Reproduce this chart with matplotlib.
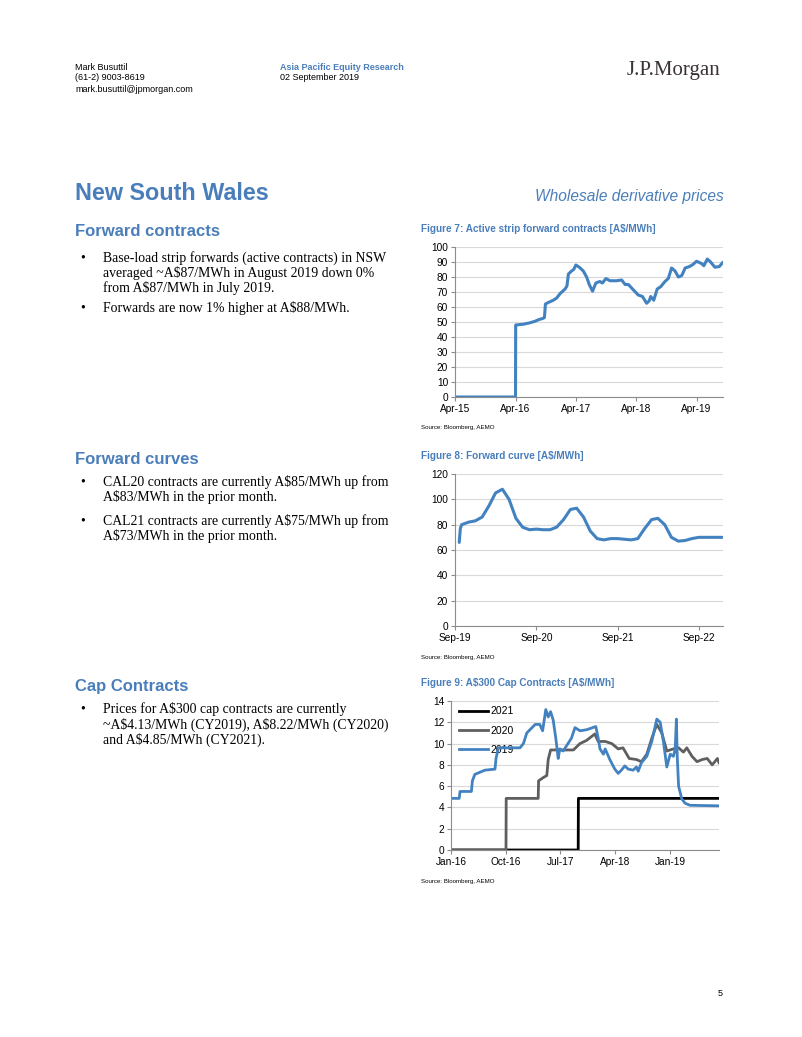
import matplotlib
matplotlib.use("Agg")
import matplotlib.pyplot as plt
import matplotlib.dates as mdates
import pandas as pd

# page size in pixels at 100 dpi
W, H = 802, 1037

BLUE = "#4382C0"
HEAD_BLUE = "#4A7EBB"
GREY = "#5F5F5F"
NARROW = ["Liberation Sans Narrow", "Liberation Sans", "DejaVu Sans"]
SANS = ["Liberation Sans", "DejaVu Sans"]
SERIF = ["Liberation Serif", "DejaVu Serif"]

# ---- Figure 7: active strip forward contracts
fwd_dates = ["2015-04-01", "2016-04-01", "2016-04-02", "2016-05-18", "2016-06-28",
             "2016-07-28", "2016-08-18", "2016-09-16", "2016-09-23", "2016-09-29",
             "2016-10-16", "2016-11-15", "2016-12-06", "2016-12-27", "2017-01-26",
             "2017-02-06", "2017-02-15", "2017-03-06", "2017-03-19", "2017-04-01",
             "2017-04-22", "2017-05-16", "2017-06-05", "2017-06-21", "2017-07-11",
             "2017-07-31", "2017-08-24", "2017-09-09", "2017-09-30", "2017-10-24",
             "2017-12-03", "2018-01-03", "2018-01-24", "2018-02-13", "2018-03-14",
             "2018-04-13", "2018-05-09", "2018-06-03", "2018-06-18", "2018-06-28",
             "2018-07-16", "2018-08-06", "2018-08-27", "2018-09-22", "2018-10-12",
             "2018-11-01", "2018-11-22", "2018-12-12", "2019-01-02", "2019-01-22",
             "2019-02-18", "2019-03-12", "2019-04-01", "2019-05-01", "2019-05-15",
             "2019-06-05", "2019-06-25", "2019-07-21", "2019-08-17", "2019-09-05"]
fwd_values = [0, 0, 48, 48.5, 49.5,
              50.5, 51.5, 52.5, 53, 62,
              63, 64.5, 66, 69, 72,
              74, 82, 84, 85, 88,
              86.5, 84, 80, 75, 70.5,
              76, 77, 76, 79, 77.5,
              77.5, 78, 75, 75, 71.5,
              68, 67, 62.5, 64, 67,
              64.5, 72, 73.5, 77, 79,
              86, 84, 80, 81, 86,
              87, 88.5, 90.5, 89, 87.5,
              92, 90, 86.5, 87, 89.5]

# ---- Figure 8: forward curve
curve_dates = ["2019-09-20", "2019-09-25", "2019-10-01", "2019-11-01", "2019-12-01",
               "2020-01-01", "2020-02-01", "2020-03-01", "2020-04-01", "2020-05-01",
               "2020-06-01", "2020-07-01", "2020-08-01", "2020-09-01", "2020-10-01",
               "2020-11-01", "2020-12-01", "2021-01-01", "2021-02-01", "2021-03-01",
               "2021-04-01", "2021-05-01", "2021-06-01", "2021-07-01", "2021-08-01",
               "2021-09-01", "2021-10-01", "2021-11-01", "2021-12-01", "2022-01-01",
               "2022-02-01", "2022-03-01", "2022-04-01", "2022-05-01", "2022-06-01",
               "2022-07-01", "2022-08-01", "2022-09-01", "2022-10-01", "2022-11-01",
               "2022-12-15"]
curve_values = [66, 77, 80, 82, 83,
                86, 95, 105, 108, 100,
                85, 78, 76, 76.5, 76,
                76, 78, 84, 92, 93,
                86, 75, 69, 68, 69,
                69, 68.5, 68, 69, 77,
                84, 85, 80, 70, 67,
                67.5, 69, 70, 70, 70,
                70]

# ---- Figure 9: A$300 cap contracts
cap_labels = ["2021", "2020", "2019"]
cap21_dates = ["2016-01-01", "2017-09-28", "2017-09-29", "2019-09-02"]
cap21_values = [0, 0, 4.85, 4.85]
cap20_dates = ["2016-01-01", "2016-10-02", "2016-10-03", "2017-03-12", "2017-03-14",
               "2017-04-06", "2017-04-24", "2017-05-01", "2017-05-13", "2017-09-04",
               "2017-10-07", "2017-11-09", "2017-12-20", "2018-01-06", "2018-02-10",
               "2018-03-15", "2018-04-16", "2018-05-10", "2018-06-10", "2018-07-16",
               "2018-08-10", "2018-09-06", "2018-10-01", "2018-10-26", "2018-11-20",
               "2018-12-15", "2019-01-17", "2019-02-12", "2019-03-08", "2019-03-25",
               "2019-04-20", "2019-05-15", "2019-06-10", "2019-07-05", "2019-07-30",
               "2019-08-25", "2019-09-02"]
cap20_values = [0, 0, 4.85, 4.85, 6.5,
                6.8, 7.0, 8.5, 9.4, 9.4,
                10.0, 10.3, 10.9, 10.2, 10.2,
                10.0, 9.5, 9.6, 8.6, 8.5,
                8.3, 9.0, 10.5, 11.8, 11.0,
                9.3, 9.5, 9.6, 9.2, 9.6,
                8.8, 8.3, 8.5, 8.6, 8.0,
                8.6, 8.2]
cap19_dates = ["2016-01-01", "2016-02-11", "2016-02-15", "2016-04-12", "2016-04-17",
               "2016-04-29", "2016-05-24", "2016-06-18", "2016-08-08", "2016-08-13",
               "2016-08-25", "2016-12-11", "2016-12-28", "2017-01-14", "2017-02-25",
               "2017-03-20", "2017-04-03", "2017-04-19", "2017-05-01", "2017-05-13",
               "2017-05-26", "2017-06-08", "2017-06-20", "2017-06-28", "2017-07-15",
               "2017-08-01", "2017-08-25", "2017-09-12", "2017-10-07", "2017-11-09",
               "2017-12-25", "2018-01-06", "2018-01-15", "2018-02-01", "2018-02-10",
               "2018-03-05", "2018-03-30", "2018-04-16", "2018-05-02", "2018-05-19",
               "2018-06-05", "2018-06-30", "2018-07-16", "2018-07-25", "2018-08-10",
               "2018-09-06", "2018-10-01", "2018-10-26", "2018-11-12", "2018-11-28",
               "2018-12-15", "2019-01-01", "2019-01-17", "2019-01-26", "2019-02-01",
               "2019-02-05", "2019-02-12", "2019-02-28", "2019-03-16", "2019-04-10",
               "2019-09-02"]
cap19_values = [4.85, 4.85, 5.5, 5.5, 6.5,
                7.1, 7.3, 7.5, 7.6, 8.6,
                9.6, 9.6, 10.0, 11.0, 11.8,
                11.8, 11.2, 13.2, 12.5, 13.0,
                12.2, 10.5, 8.6, 9.5, 9.3,
                9.8, 10.5, 11.5, 11.2, 11.3,
                11.6, 10.5, 9.5, 9.0, 9.5,
                8.5, 7.6, 7.2, 7.5, 7.9,
                7.6, 7.5, 7.8, 7.4, 8.2,
                8.8, 10.2, 12.3, 12.0, 10.2,
                7.8, 9.0, 8.8, 9.5, 12.3,
                8.9, 6.0, 4.8, 4.4, 4.2,
                4.15]


def fx(x):
    return x / W


def fy(y):
    return 1 - y / H


def put(x, y, s, **kw):
    kw.setdefault("va", "center")
    fig.text(fx(x), fy(y), s, parse_math=False, **kw)


def make_axes(left, top, right, bottom):
    ax = fig.add_axes([fx(left), fy(bottom), fx(right - left), (bottom - top) / H])
    for side in ["top", "right"]:
        ax.spines[side].set_visible(False)
    for side in ["left", "bottom"]:
        ax.spines[side].set_color("#8C8C8C")
        ax.spines[side].set_linewidth(0.8)
    ax.grid(True, axis="y", color="#D9D9D9", linewidth=0.8)
    ax.set_axisbelow(True)
    ax.tick_params(length=3, width=0.8, color="#8C8C8C", labelsize=7, pad=2)
    return ax


def finish(ax):
    for lab in ax.get_xticklabels() + ax.get_yticklabels():
        lab.set_family(NARROW)
        lab.set_fontsize(7.3)


fig = plt.figure(figsize=(W / 100, H / 100), dpi=100)

# ---- page header
put(75, 67, "Mark Busuttil", family=SANS, fontsize=6.5)
put(75, 78, "(61-2) 9003-8619", family=SANS, fontsize=6.5)
put(75, 89, "mark.busuttil@jpmorgan.com", family=SANS, fontsize=6.5)
put(280, 67, "Asia Pacific Equity Research", family=SANS, fontsize=6.5,
    color=HEAD_BLUE, fontweight="bold")
put(280, 77, "02 September 2019", family=SANS, fontsize=6.5)
put(720, 71, "J.P.Morgan", family=SERIF, fontsize=15, ha="right", color="#3A3334")

put(75, 193, "New South Wales", family=SANS, fontsize=16.8, fontweight="bold",
    color=HEAD_BLUE)
put(724, 196, "Wholesale derivative prices", family=SANS, fontsize=11.2,
    style="italic", color=HEAD_BLUE, ha="right")

# ---- left column text
sections = [
    (232, "Forward contracts",
     [(258, True, "Base-load strip forwards (active contracts) in NSW"),
      (273, False, "averaged ~A$87/MWh in August 2019 down 0%"),
      (288, False, "from A$87/MWh in July 2019."),
      (308, True, "Forwards are now 1% higher at A$88/MWh.")]),
    (459, "Forward curves",
     [(482, True, "CAL20 contracts are currently A$85/MWh up from"),
      (497, False, "A$83/MWh in the prior month."),
      (521, True, "CAL21 contracts are currently A$75/MWh up from"),
      (536, False, "A$73/MWh in the prior month.")]),
    (686, "Cap Contracts",
     [(709, True, "Prices for A$300 cap contracts are currently"),
      (725, False, "~A$4.13/MWh (CY2019), A$8.22/MWh (CY2020)"),
      (740, False, "and A$4.85/MWh (CY2021).")]),
]
for hy, head, lines in sections:
    put(75, hy, head, family=SANS, fontsize=12, fontweight="bold", color=HEAD_BLUE)
    for ly, bullet, txt in lines:
        if bullet:
            put(80, ly, "\u2022", family=SERIF, fontsize=9.9)
        put(103, ly, txt, family=SERIF, fontsize=9.9)

# ---- figure titles and sources
for ty, title in [(229, "Figure 7: Active strip forward contracts [A$/MWh]"),
                  (456, "Figure 8: Forward curve [A$/MWh]"),
                  (683, "Figure 9: A$300 Cap Contracts [A$/MWh]")]:
    put(421, ty, title, family=NARROW, fontsize=7.2, fontweight="bold", color=HEAD_BLUE)
for sy in [428, 657, 882]:
    put(421, sy, "Source: Bloomberg, AEMO", family=NARROW, fontsize=4.4)

put(718, 993, "5", family=SANS, fontsize=6.5)

# ---- Figure 7
ax1 = make_axes(455, 247, 723, 397)
ax1.plot(pd.to_datetime(fwd_dates), fwd_values, color=BLUE, lw=2.2,
         solid_joinstyle="round")
ax1.set_ylim(0, 100)
ax1.set_yticks(range(0, 101, 10))
ax1.set_xlim(pd.Timestamp("2015-04-01"), pd.Timestamp("2019-09-08"))
ax1.set_xticks(pd.to_datetime(["2015-04-01", "2016-04-01", "2017-04-01",
                               "2018-04-01", "2019-04-01"]))
ax1.xaxis.set_major_formatter(mdates.DateFormatter("%b-%y"))
finish(ax1)

# ---- Figure 8
ax2 = make_axes(455, 474, 723, 626)
ax2.plot(pd.to_datetime(curve_dates), curve_values, color=BLUE, lw=2.2,
         solid_joinstyle="round", solid_capstyle="round")
ax2.set_ylim(0, 120)
ax2.set_yticks(range(0, 121, 20))
ax2.set_xlim(pd.Timestamp("2019-09-01"), pd.Timestamp("2022-12-19"))
ax2.set_xticks(pd.to_datetime(["2019-09-01", "2020-09-01", "2021-09-01",
                               "2022-09-01"]))
ax2.xaxis.set_major_formatter(mdates.DateFormatter("%b-%y"))
finish(ax2)

# ---- Figure 9
ax3 = make_axes(451, 701, 719, 850)
ax3.plot(pd.to_datetime(cap21_dates), cap21_values, color="black", lw=2.0,
         label=cap_labels[0])
ax3.plot(pd.to_datetime(cap20_dates), cap20_values, color=GREY, lw=2.0,
         label=cap_labels[1])
ax3.plot(pd.to_datetime(cap19_dates), cap19_values, color=BLUE, lw=2.0,
         label=cap_labels[2], solid_joinstyle="round")
ax3.set_ylim(0, 14)
ax3.set_yticks(range(0, 15, 2))
ax3.set_xlim(pd.Timestamp("2016-01-01"), pd.Timestamp("2019-09-02"))
ax3.set_xticks(pd.to_datetime(["2016-01-01", "2016-10-01", "2017-07-01",
                               "2018-04-01", "2019-01-01"]))
ax3.xaxis.set_major_formatter(mdates.DateFormatter("%b-%y"))
leg = ax3.legend(loc="upper left", bbox_to_anchor=(fx(455), fy(702)),
                 bbox_transform=fig.transFigure, frameon=False, fontsize=7.5,
                 handlelength=2.8, handletextpad=0.2, labelspacing=0.9,
                 borderaxespad=0)
for t in leg.get_texts():
    t.set_family(NARROW)
leg.set_zorder(1)
finish(ax3)

fig.savefig("out.png", dpi=100)
